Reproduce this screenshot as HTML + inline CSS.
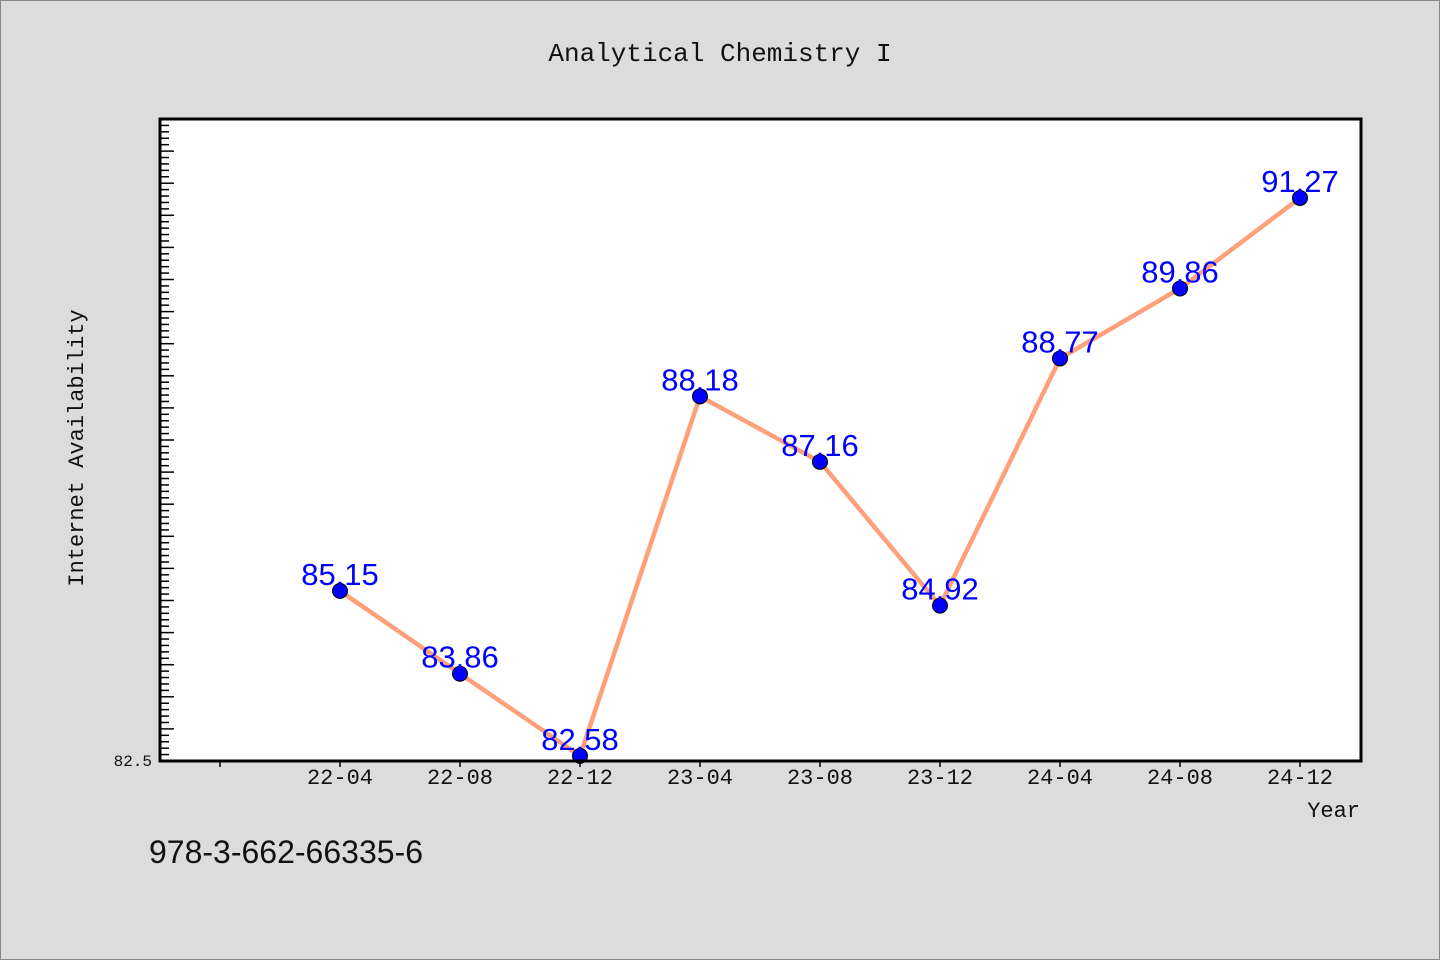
<!DOCTYPE html>
<html><head><meta charset="utf-8"><style>
body{margin:0;background:#dcdcdc;}
svg{display:block;font-family:"Liberation Mono","DejaVu Sans Mono",monospace;}
</style></head><body>
<svg width="1440" height="960">
<rect x="0.5" y="0.5" width="1439" height="959" fill="#dcdcdc" stroke="#888"/>
<text x="720" y="61" text-anchor="middle" font-size="26" fill="#111">Analytical Chemistry I</text>
<rect x="160" y="119" width="1201" height="642" fill="#fff"/>
<g id="ticks"></g>
<g id="series"></g>
<rect x="160" y="119" width="1201" height="642" fill="none" stroke="#000" stroke-width="3"/>
<text x="83" y="448" transform="rotate(-90 83 448)" text-anchor="middle" font-size="22" fill="#111">Internet Availability</text>
<text x="1360" y="817" text-anchor="end" font-size="22" fill="#111">Year</text>
<text x="152" y="766" text-anchor="end" font-size="16" fill="#111">82.5</text>
<text x="149" y="863" font-size="32" fill="#111" font-family="'WenQuanYi Zen Hei', 'Liberation Sans', sans-serif">978-3-662-66335-6</text>
</svg>
<script>
const categories=["22-04","22-08","22-12","23-04","23-08","23-12","24-04","24-08","24-12"];
const values=[85.15,83.86,82.58,88.18,87.16,84.92,88.77,89.86,91.27];
const labels=["85.15","83.86","82.58","88.18","87.16","84.92","88.77","89.86","91.27"];
const yMin=82.5,yMax=92.5;
const NS="http://www.w3.org/2000/svg";
const L=160,R=1361,T=119,B=761;
function x(i){return 340+(i)*(R-L-1)/10;}
function y(v){return B-(v-yMin)/(yMax-yMin)*(B-T);}
function mk(tag,attrs,parent){const e=document.createElementNS(NS,tag);for(const k in attrs)e.setAttribute(k,attrs[k]);parent.appendChild(e);return e;}
const tg=document.getElementById('ticks');
for(let k=0;k<=100;k++){const v=yMin+k*0.1;const yy=y(v);const major=k%5===0;
 const t=mk('line',{x1:L,x2:L+(major?14:9),y1:yy,y2:yy,stroke:'#000','stroke-width':1.5},tg);
 
 }
for(let i=-1;i<categories.length;i++){const xx=x(i);
 const t=mk('line',{x1:xx,x2:xx,y1:B,y2:B+6,stroke:'#000','stroke-width':1.5},tg);
 
 
 if(i>=0){const tx=mk('text',{x:xx,y:B+23,'text-anchor':'middle','font-size':22,fill:'#111'},tg);tx.textContent=categories[i];
 
 }}
const sg=document.getElementById('series');
const pts=values.map((v,i)=>x(i)+','+y(v)).join(' ');
const pl=mk('polyline',{points:pts,fill:'none',stroke:'#ffa07a','stroke-width':4.5,'stroke-linejoin':'round'},sg);


values.forEach((v,i)=>{
 const c=mk('circle',{cx:x(i),cy:y(v),r:7.5,fill:'#0000ff',stroke:'#000','stroke-width':1},sg);
 
 
 const t=mk('text',{x:x(i),y:y(v)-6,'text-anchor':'middle','font-size':31,fill:'#0000ff','font-family':"'WenQuanYi Zen Hei', 'Liberation Sans', sans-serif"},sg);
 t.textContent=labels[i];
 
 
});
</script>
</body></html>
